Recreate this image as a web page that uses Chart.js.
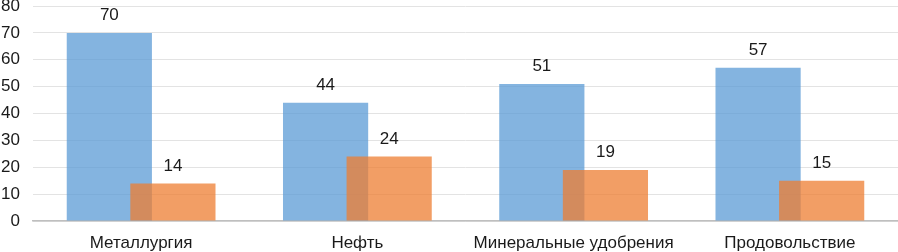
<!DOCTYPE html>
<html>
<head>
<meta charset="utf-8">
<script src="https://cdn.jsdelivr.net/npm/chart.js@4"></script>
<style>
  html, body { margin: 0; padding: 0; background: #fff; }
  #wrap { width: 898px; height: 252px; }
</style>
</head>
<body>
<div id="wrap"><canvas id="chart"></canvas></div>
<script>
// categories and values
const categories = ['Металлургия', 'Нефть', 'Минеральные удобрения', 'Продовольствие'];
const blueValues = [70, 44, 51, 57];
const orangeValues = [14, 24, 19, 15];

const FONT = '"Liberation Sans", Arial, sans-serif';

// orange bars sit on top of the blue ones, so draw them last
let lateDraw = false;
const orangeOnTop = {
    id: 'orangeOnTop',
    beforeDatasetDraw(chart, args) {
        if (args.index === 1 && !lateDraw) return false;
    },
    afterDatasetsDraw(chart) {
        lateDraw = true;
        chart.getDatasetMeta(1).controller.draw();
        lateDraw = false;
    }
};

// draws the number above every bar
const valueLabels = {
    id: 'valueLabels',
    afterDatasetsDraw(chart) {
        const ctx = chart.ctx;
        ctx.save();
        ctx.font = '17px ' + FONT;
        ctx.fillStyle = '#1a1a1a';
        ctx.textAlign = 'center';
        ctx.textBaseline = 'alphabetic';
        chart.data.datasets.forEach((ds, i) => {
            chart.getDatasetMeta(i).data.forEach((bar, j) => {
                ctx.fillText(String(ds.data[j]), bar.x, bar.y - 12.5);
            });
        });
        ctx.restore();
    }
};

new Chart(document.getElementById('chart').getContext('2d'), {
    type: 'bar',
    data: {
        labels: categories,
        datasets: [
            {
                data: blueValues,
                backgroundColor: 'rgba(91, 155, 213, 0.75)'
            },
            {
                data: orangeValues,
                backgroundColor: 'rgba(237, 125, 49, 0.75)'
            }
        ]
    },
    options: {
        responsive: true,
        maintainAspectRatio: false,
        animation: false,
        categoryPercentage: 0.588,
        barPercentage: 1.34,
        layout: { padding: { top: 6, right: 0, left: 0, bottom: 0 } },
        plugins: {
            legend: { display: false },
            tooltip: { enabled: false }
        },
        scales: {
            x: {
                grid: { display: false, drawTicks: false },
                border: { color: '#bfbfbf', width: 1.5 },
                ticks: { color: '#1a1a1a', font: { family: FONT, size: 17 }, padding: 12, maxRotation: 0, autoSkip: false },
                afterFit(scale) { scale.height = 31; scale.paddingLeft = 0; scale.paddingRight = 0; }
            },
            y: {
                min: 0,
                max: 80,
                grid: { color: '#e3e3e3', drawTicks: false },
                border: { display: false },
                ticks: { stepSize: 10, color: '#1a1a1a', font: { family: FONT, size: 17 }, padding: 13 },
                afterFit(scale) { scale.width = 33; scale.paddingTop = 0; scale.paddingBottom = 0; }
            }
        }
    },
    plugins: [orangeOnTop, valueLabels]
});
</script>
</body>
</html>
